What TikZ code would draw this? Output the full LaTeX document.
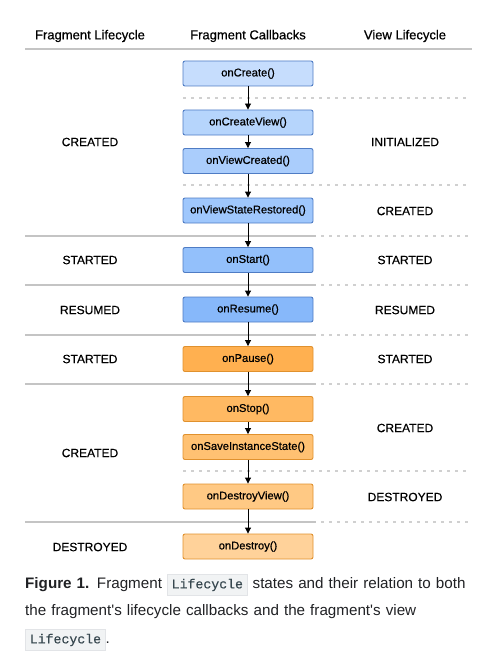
\documentclass[tikz,border=0pt]{standalone}
\usepackage{fontspec}
\setmainfont{Liberation Sans}
\setmonofont{Liberation Mono}
\newfontfamily\diagramfont{Liberation Sans}[UprightFeatures={FakeBold=0.6}]
\newfontfamily\codefont{Liberation Mono}[UprightFeatures={FakeBold=0.5}]
\usetikzlibrary{arrows.meta}

\definecolor{blueline}{HTML}{4F7CC4}
\definecolor{orangeline}{HTML}{E0912E}
\definecolor{rulegray}{HTML}{C4C4C4}
\definecolor{captiontext}{HTML}{202124}
\definecolor{codebg}{HTML}{F1F3F4}
\definecolor{codeline}{HTML}{E2E4E7}
\definecolor{codetext}{HTML}{37474F}

\newcommand{\codeword}[1]{{\setlength{\fboxsep}{4pt}\setlength{\fboxrule}{0.6pt}\fcolorbox{codeline}{codebg}{\color{codetext}\codefont\fontsize{13.2}{13.2}\selectfont #1}}}

\begin{document}
\begin{tikzpicture}[x=1pt, y=-1pt,
    every node/.style={font=\diagramfont\fontsize{12}{14}\selectfont, text=black},
    heading/.style={font=\diagramfont\fontsize{13}{15}\selectfont},
    callback/.style={draw, rounded corners=2pt, line width=0.9pt,
                     minimum width=130pt, minimum height=25pt, inner sep=0pt,
                     font=\diagramfont\fontsize{11.2}{13}\selectfont},
    bluebox/.style={callback, draw=blueline},
    orangebox/.style={callback, draw=orangeline},
    flow/.style={-{Triangle[length=6pt,width=6pt]}, line width=0.9pt},
    rule/.style={rulegray, line width=1.1pt},
    softrule/.style={rulegray!80, line width=1.1pt, dash pattern=on 3pt off 5pt}]
  \useasboundingbox (0,0) rectangle (498,658);

  % column headings
  \node[heading] (head_fragment) at (90,36) {Fragment Lifecycle};
  \node[heading] (head_callbacks) at (248,36) {Fragment Callbacks};
  \node[heading] (head_view) at (405,36) {View Lifecycle};
  \draw[rule] (25,49) -- (472,49);

  % separators
  \foreach \y in {98, 185, 471}
    \draw[softrule] (183,\y) -- (470,\y);
  \foreach \y in {236, 285, 335, 384, 522} {
    \draw[rule] (25,\y) -- (316,\y);
    \draw[softrule] (321,\y) -- (470,\y);
  }

  % callbacks
  \node[bluebox, fill={rgb,255:red,198;green,221;blue,253}] (on_create) at (248,73.5) {onCreate()};
  \node[bluebox, fill={rgb,255:red,182;green,213;blue,252}] (on_create_view) at (248,122.5) {onCreateView()};
  \node[bluebox, fill={rgb,255:red,170;green,205;blue,252}] (on_view_created) at (248,161) {onViewCreated()};
  \node[bluebox, fill={rgb,255:red,159;green,199;blue,252}] (on_view_state_restored) at (248,210.5) {onViewStateRestored()};
  \node[bluebox, fill={rgb,255:red,147;green,192;blue,251}] (on_start) at (248,260) {onStart()};
  \node[bluebox, fill={rgb,255:red,135;green,184;blue,250}] (on_resume) at (248,309.5) {onResume()};
  \node[orangebox, fill={rgb,255:red,255;green,176;blue,80}] (on_pause) at (248,359) {onPause()};
  \node[orangebox, fill={rgb,255:red,255;green,185;blue,98}] (on_stop) at (248,409) {onStop()};
  \node[orangebox, fill={rgb,255:red,255;green,193;blue,114}] (on_save_instance_state) at (248,447) {onSaveInstanceState()};
  \node[orangebox, fill={rgb,255:red,255;green,201;blue,132}] (on_destroy_view) at (248,496.5) {onDestroyView()};
  \node[orangebox, fill={rgb,255:red,255;green,210;blue,154}] (on_destroy) at (248,546.5) {onDestroy()};

  \draw[flow] (on_create) -- (on_create_view);
  \draw[flow] (on_create_view) -- (on_view_created);
  \draw[flow] (on_view_created) -- (on_view_state_restored);
  \draw[flow] (on_view_state_restored) -- (on_start);
  \draw[flow] (on_start) -- (on_resume);
  \draw[flow] (on_resume) -- (on_pause);
  \draw[flow] (on_pause) -- (on_stop);
  \draw[flow] (on_stop) -- (on_save_instance_state);
  \draw[flow] (on_save_instance_state) -- (on_destroy_view);
  \draw[flow] (on_destroy_view) -- (on_destroy);

  % fragment states
  \node (fragment_created) at (90,142) {CREATED};
  \node (fragment_started) at (90,260) {STARTED};
  \node (fragment_resumed) at (90,310) {RESUMED};
  \node (fragment_paused) at (90,359) {STARTED};
  \node (fragment_stopped) at (90,453) {CREATED};
  \node (fragment_destroyed) at (90,547) {DESTROYED};

  % view states
  \node (view_initialized) at (405,142) {INITIALIZED};
  \node (view_created) at (405,211) {CREATED};
  \node (view_started) at (405,260) {STARTED};
  \node (view_resumed) at (405,310) {RESUMED};
  \node (view_paused) at (405,359) {STARTED};
  \node (view_stopped) at (405,428) {CREATED};
  \node (view_destroyed) at (405,497) {DESTROYED};

  % caption
  \node[anchor=north west, inner sep=0pt, align=left, text width=470pt,
        text=captiontext, font=\rmfamily\fontsize{15.2}{27.5}\selectfont] (caption) at (25,574)
    {\textbf{Figure 1.} Fragment \codeword{Lifecycle} states and their relation to both\\
     the fragment\textquotesingle s lifecycle callbacks and the fragment\textquotesingle s view\\
     \codeword{Lifecycle}.};
\end{tikzpicture}
\end{document}
